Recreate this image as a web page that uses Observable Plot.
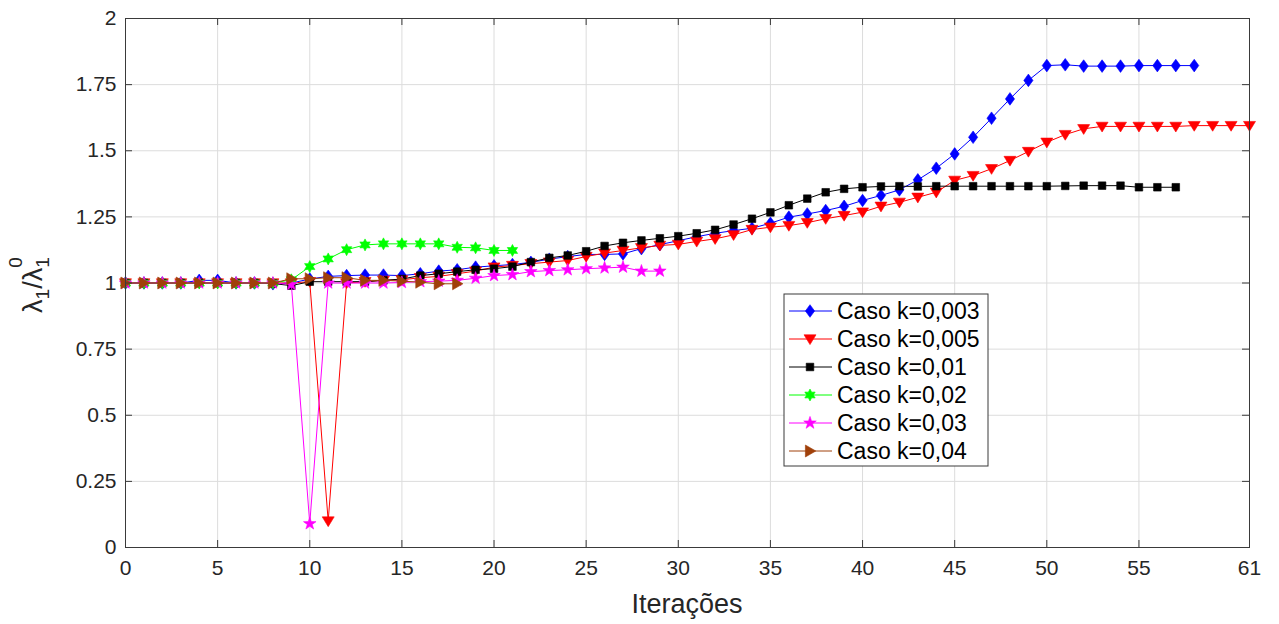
<!DOCTYPE html>
<html>
<head>
<meta charset="utf-8">
<script src="https://cdn.jsdelivr.net/npm/d3@7"></script>
<script src="https://cdn.jsdelivr.net/npm/@observablehq/plot@0.6"></script>
<style>
  html, body { margin: 0; padding: 0; background: #fff; }
  #chart { position: relative; width: 1279px; height: 624px; }
  svg { font-family: "Liberation Sans", Arial, sans-serif; }
</style>
</head>
<body>
<div id="chart"></div>
<script>
// ---- data ----
const seriesNames = ["Caso k=0,003", "Caso k=0,005", "Caso k=0,01", "Caso k=0,02", "Caso k=0,03", "Caso k=0,04"];
const seriesColors = ["#0000ff", "#ff0000", "#000000", "#00ff00", "#ff00ff", "#a0400a"];

const k0003 = [1.0, 1.0, 1.0, 1.0, 1.01, 1.01, 1.0, 1.0, 0.997, 1.0,
  1.015, 1.025, 1.028, 1.03, 1.03, 1.028, 1.035, 1.045, 1.05, 1.06,
  1.065, 1.07, 1.078, 1.09, 1.1, 1.108, 1.108, 1.11, 1.13, 1.145,
  1.16, 1.175, 1.188, 1.198, 1.207, 1.226, 1.249, 1.261, 1.274, 1.29,
  1.312, 1.331, 1.352, 1.39, 1.434, 1.488, 1.551, 1.623, 1.696, 1.766,
  1.822, 1.825, 1.82, 1.82, 1.82, 1.822, 1.822, 1.822, 1.822];
const k0005 = [1.0, 1.0, 1.0, 1.0, 1.0, 1.0, 1.0, 1.0, 1.0, 1.0,
  1.005, 0.1, 1.0, 1.005, 1.01, 1.012, 1.02, 1.025, 1.035, 1.045,
  1.06, 1.066, 1.073, 1.079, 1.085, 1.1, 1.113, 1.123, 1.133, 1.142,
  1.146, 1.157, 1.167, 1.182, 1.202, 1.211, 1.217, 1.228, 1.243, 1.255,
  1.268, 1.29, 1.305, 1.324, 1.343, 1.388, 1.406, 1.432, 1.463, 1.497,
  1.532, 1.561, 1.583, 1.592, 1.592, 1.592, 1.592, 1.592, 1.595, 1.595,
  1.595, 1.595];
const k001 = [1.0, 1.0, 1.0, 1.0, 1.0, 1.0, 1.0, 1.0, 0.998, 0.99,
  1.005, 1.005, 1.005, 1.005, 1.01, 1.015, 1.028, 1.035, 1.043, 1.05,
  1.054, 1.062, 1.079, 1.095, 1.104, 1.12, 1.14, 1.152, 1.161, 1.169,
  1.177, 1.188, 1.201, 1.221, 1.243, 1.267, 1.294, 1.319, 1.343, 1.356,
  1.362, 1.365, 1.366, 1.365, 1.366, 1.366, 1.366, 1.366, 1.366, 1.366,
  1.366, 1.367, 1.368, 1.368, 1.368, 1.362, 1.362, 1.362];
const k002 = [1.0, 1.0, 1.0, 1.0, 1.0, 1.0, 1.0, 1.0, 1.0, 1.012,
  1.062, 1.091, 1.126, 1.144, 1.148, 1.148, 1.148, 1.148, 1.135, 1.133,
  1.123, 1.123];
const k003 = [1.0, 1.0, 1.0, 1.0, 1.0, 1.0, 1.0, 1.0, 1.0, 0.995,
  0.09, 1.0, 1.0, 1.0, 1.0, 1.002, 1.005, 1.007, 1.01, 1.018,
  1.028, 1.032, 1.043, 1.047, 1.05, 1.054, 1.057, 1.06, 1.045, 1.045];
const k004 = [1.0, 1.0, 1.0, 1.0, 1.0, 1.0, 1.0, 1.0, 1.0, 1.016,
  1.016, 1.02, 1.02, 1.01, 1.01, 1.007, 1.003, 0.997, 0.997];

const xTicks = [0, 5, 10, 15, 20, 25, 30, 35, 40, 45, 50, 55, 61];
const yTicks = [0, 0.25, 0.5, 0.75, 1, 1.25, 1.5, 1.75, 2];
const xLabel = "Iterações";

const seriesValues = [k0003, k0005, k001, k002, k003, k004];

// ---- marker shapes (MATLAB-like) ----
function starPath(ctx, n, ro, ri) {
  for (let i = 0; i < 2 * n; i++) {
    const r = i % 2 === 0 ? ro : ri;
    const a = -Math.PI / 2 + i * Math.PI / n;
    const px = r * Math.cos(a), py = r * Math.sin(a);
    if (i === 0) ctx.moveTo(px, py); else ctx.lineTo(px, py);
  }
  ctx.closePath();
}
const symDiamond = { draw(ctx) { ctx.moveTo(0, -6.3); ctx.lineTo(4.6, 0); ctx.lineTo(0, 6.3); ctx.lineTo(-4.6, 0); ctx.closePath(); } };
const symTriDown = { draw(ctx) { ctx.moveTo(-6, -4.2); ctx.lineTo(6, -4.2); ctx.lineTo(0, 5.6); ctx.closePath(); } };
const symSquare = { draw(ctx) { ctx.rect(-3.8, -3.8, 7.6, 7.6); } };
const symHexagram = { draw(ctx) { starPath(ctx, 6, 6, 3.3); } };
const symPentagram = { draw(ctx) { starPath(ctx, 5, 6.6, 2.6); } };
const symTriRight = { draw(ctx) { ctx.moveTo(-4.6, -6); ctx.lineTo(5.8, 0); ctx.lineTo(-4.6, 6); ctx.closePath(); } };
const seriesSymbols = [symDiamond, symTriDown, symSquare, symHexagram, symPentagram, symTriRight];

const tables = seriesValues.map(vals => vals.map((v, i) => ({ it: i, val: v })));

const W = 1279, H = 624;
const mL = 125, mR = 30, mT = 18, mB = 77;
const pw = W - mL - mR, ph = H - mT - mB;
const tick = 7;
const axisColor = "#3a3a3a";

const marks = [
  Plot.gridX(xTicks, { stroke: "#dcdcdc", strokeOpacity: 1, strokeWidth: 1 }),
  Plot.gridY(yTicks, { stroke: "#dcdcdc", strokeOpacity: 1, strokeWidth: 1 }),
];
tables.forEach((t, i) => {
  marks.push(Plot.line(t, { x: "it", y: "val", stroke: seriesColors[i], strokeWidth: 1 }));
  marks.push(Plot.dot(t, { x: "it", y: "val", symbol: seriesSymbols[i], r: 5, fill: seriesColors[i], stroke: seriesColors[i], strokeWidth: 0.6 }));
});
marks.push(
  Plot.tickX(xTicks, { x: d => d, stroke: axisColor, insetTop: ph - tick }),
  Plot.tickX(xTicks, { x: d => d, stroke: axisColor, insetBottom: ph - tick }),
  Plot.tickY(yTicks, { y: d => d, stroke: axisColor, insetRight: pw - tick }),
  Plot.tickY(yTicks, { y: d => d, stroke: axisColor, insetLeft: pw - tick }),
  Plot.frame({ stroke: axisColor, strokeWidth: 1 }),
  Plot.axisX(xTicks, { tickSize: 0, tickPadding: 13, fontSize: 21, label: null, fill: "#262626" }),
  Plot.axisY(yTicks, { tickSize: 0, tickPadding: 9, fontSize: 21, label: null, fill: "#262626", tickFormat: d => String(d) })
);

const plot = Plot.plot({
  width: W, height: H,
  marginLeft: mL, marginRight: mR, marginTop: mT, marginBottom: mB,
  x: { domain: [0, 61] },
  y: { domain: [0, 2] },
  style: { fontFamily: "'Liberation Sans', Arial, sans-serif", background: "#fff", overflow: "visible" },
  marks
});
document.getElementById("chart").appendChild(plot);

// ---- axis titles ----
const svg = d3.select(plot);
svg.append("text")
  .attr("x", mL + pw / 2).attr("y", 613)
  .attr("text-anchor", "middle").attr("font-size", 27).attr("fill", "#262626")
  .text(xLabel);

const yl = svg.append("text")
  .attr("transform", "translate(42,285) rotate(-90)")
  .attr("text-anchor", "middle").attr("font-size", 27).attr("fill", "#262626");
yl.append("tspan").text("λ");
yl.append("tspan").attr("dy", 7).attr("font-size", 19).text("1");
yl.append("tspan").attr("dy", -7).text("/λ");
yl.append("tspan").attr("dy", 7).attr("font-size", 19).text("1");
yl.append("tspan").attr("dx", -10.5).attr("dy", -27).attr("font-size", 19).text("0");

// ---- legend ----
const lg = svg.append("g");
const lx = 784, ly = 294, lw = 204, lh = 172;
lg.append("rect").attr("x", lx).attr("y", ly).attr("width", lw).attr("height", lh)
  .attr("fill", "#fff").attr("stroke", "#3a3a3a").attr("stroke-width", 1);
seriesNames.forEach((name, i) => {
  const cy = 311 + i * 28;
  lg.append("line").attr("x1", 789).attr("x2", 832).attr("y1", cy).attr("y2", cy)
    .attr("stroke", seriesColors[i]).attr("stroke-width", 1);
  lg.append("path").attr("transform", `translate(810,${cy})`)
    .attr("d", d3.symbol(seriesSymbols[i])())
    .attr("fill", seriesColors[i]).attr("stroke", seriesColors[i]).attr("stroke-width", 0.6);
  lg.append("text").attr("x", 837).attr("y", cy + 8).attr("text-anchor", "start")
    .attr("font-size", 23).attr("fill", "#000").text(name);
});
</script>
</body>
</html>
